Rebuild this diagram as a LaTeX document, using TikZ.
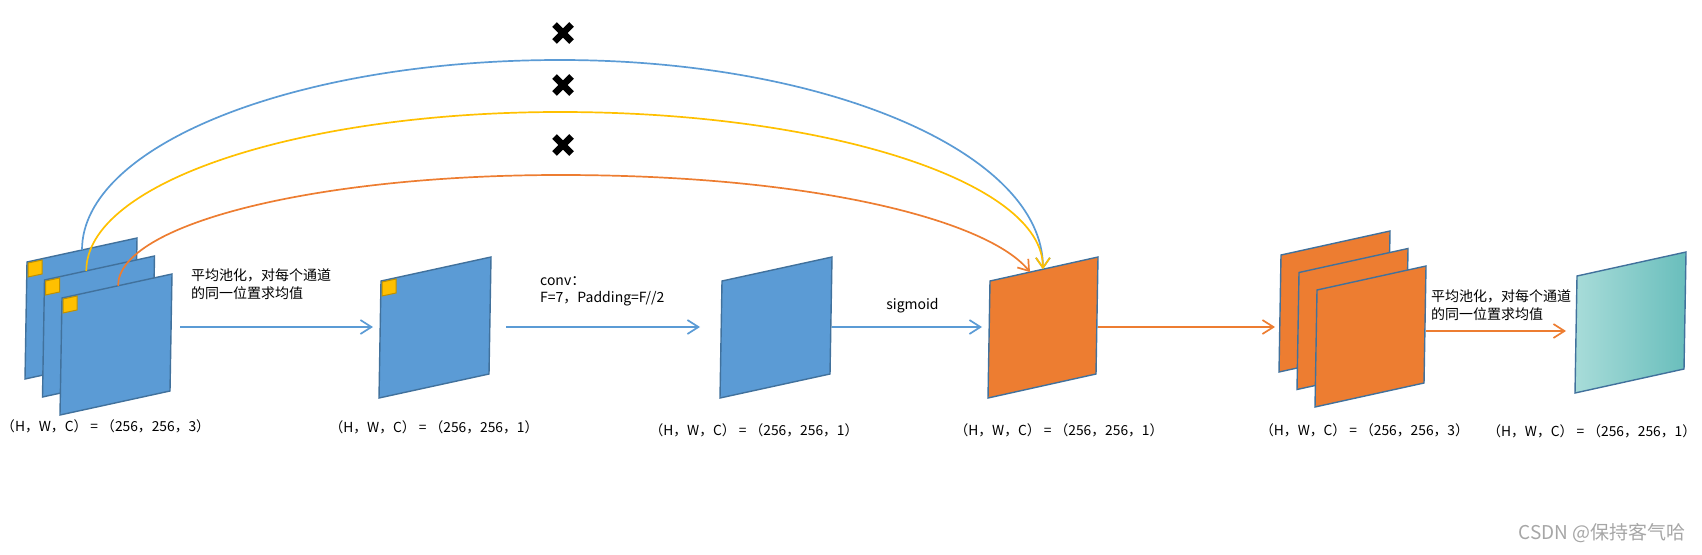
\documentclass[tikz,border=0pt]{standalone}
\usepackage{fontspec}
\newfontfamily\cjk{Noto Sans CJK SC}
\usetikzlibrary{arrows.meta,calc}

\definecolor{mapblue}{HTML}{5B9BD5}
\definecolor{mapedge}{HTML}{41719C}
\definecolor{maporange}{HTML}{ED7D31}
\definecolor{patchyellow}{HTML}{FFC000}
\definecolor{patchedge}{HTML}{BF9000}
\definecolor{tealL}{HTML}{A8DCD9}
\definecolor{tealR}{HTML}{69BEBC}

% feature map: name, top-left x, top-left y, width, fill
\newcommand{\fmap}[5]{%
  \draw[fmap,#5] (#2,#3) coordinate (#1-tl) -- ++(#4,-24) coordinate (#1-tr)
    -- ++(-2,117) coordinate (#1-br) -- ++(-#4,24) coordinate (#1-bl) -- cycle;}
% yellow window in the top-left corner of a map
\newcommand{\window}[1]{%
  \draw[yellowpatch] ($(#1-tl)+(1,1)$) -- ++(14,-3) -- ++(0,14) -- ++(-14,3) -- cycle;}

\begin{document}
\begin{tikzpicture}[x=1pt,y=-1pt,
  fmap/.style={draw=mapedge, line width=1.4pt, line join=miter},
  yellowpatch/.style={draw=patchedge, fill=patchyellow, line width=1pt},
  bluearrow/.style={draw=mapblue, line width=1.7pt, -{Straight Barb[length=11pt,width=14pt]}},
  orangearrow/.style={bluearrow, draw=maporange},
  skipline/.style={line width=1.7pt, -{Straight Barb[length=10pt,width=14pt]}},
  nomark/.style={line width=6.5pt},
  dimlabel/.style={font=\cjk\fontsize{13.8}{16}\selectfont, inner sep=0pt},
  oplabel/.style={font=\cjk\fontsize{14}{17.5}\selectfont, align=left, inner sep=0pt},
]
\useasboundingbox (0,0) rectangle (1702,554);

% input, three channels
\foreach \i in {0,1,2} {
  \fmap{in\i}{27+17.5*\i}{262+18*\i}{110}{fill=mapblue}
  \window{in\i}
}
% pooled map
\fmap{pool}{381}{281}{110}{fill=mapblue}
\window{pool}
% conv map
\fmap{conv}{722}{281}{110}{fill=mapblue}
% sigmoid map
\fmap{sig}{990}{281}{108}{fill=maporange}
% weighted channels
\foreach \i in {0,1,2} {
  \fmap{out\i}{1281+18*\i}{255+17.5*\i}{109}{fill=maporange}
}
% output map
\fmap{avg}{1577}{276}{109}{left color=tealL, right color=tealR}

% arrows
\coordinate (row) at (0,327);
\coordinate (row2) at (0,331);
\draw[bluearrow, shorten <=8pt, shorten >=8pt] (in2-tr |- row) -- (pool-tl |- row);
\draw[bluearrow, shorten <=15pt, shorten >=22pt] (pool-tr |- row) -- (conv-tl |- row);
\draw[bluearrow, shorten >=8pt] (conv-tr |- row) -- (sig-tl |- row);
\draw[orangearrow, shorten >=6pt] (sig-tr |- row) -- (out0-tl |- row);
\draw[orangearrow, shorten >=11pt] (out2-tr |- row2) -- (avg-tl |- row2);

% skipped connections
\coordinate (blue-from) at ($(in0-tl)!0.5!(in0-tr)$);
\coordinate (yellow-from) at ($(in1-tl)!0.38!(in1-tr)$);
\coordinate (orange-from) at ($(in2-tl)!0.51!(in2-tr)$);
\coordinate (skip-to) at ($(sig-tl)!0.49!(sig-tr)$);
\coordinate (orange-to) at ($(sig-tl)!0.37!(sig-tr)$);
\draw[skipline, mapblue] (blue-from) .. controls (82,145) and (296,60) .. (560,60)
  .. controls (827,60) and (1043,153) .. (skip-to);
\draw[skipline, patchyellow] (yellow-from) .. controls (86,183) and (298,112) .. (560,112)
  .. controls (827,112) and (1043,182) .. (skip-to);
\draw[skipline, maporange] (orange-from) .. controls (118,224) and (316,175) .. (560,175)
  .. controls (820,175) and (990,222) .. (orange-to);

% crosses
\foreach \y in {33,85,145} {
  \draw[nomark] (563,\y) ++(-8.5,-8.5) -- ++(17,17);
  \draw[nomark] (563,\y) ++(-8.5,8.5) -- ++(17,-17);
}

% operation labels
\node[oplabel, anchor=west] (pool-op) at (191,284) {平均池化，对每个通道\\的同一位置求均值};
\node[oplabel, anchor=west] (conv-op) at (540,291.5) {conv：\\F=7，Padding=F//2};
\node[oplabel] (sig-op) at (912.5,305.7) {sigmoid};
\node[oplabel, anchor=west] (avg-op) at (1431,305.3) {平均池化，对每个通道\\的同一位置求均值};

% shapes
\node[dimlabel, anchor=west] (in-dim) at (1,426) {（H，W，C） = （256，256，3）};
\node[dimlabel] (pool-dim) at (434,427) {（H，W，C） = （256，256，1）};
\node[dimlabel] (conv-dim) at (754,430.5) {（H，W，C） = （256，256，1）};
\node[dimlabel] (sig-dim) at (1059,430) {（H，W，C） = （256，256，1）};
\node[dimlabel] (out-dim) at (1364.5,430.7) {（H，W，C） = （256，256，3）};
\node[dimlabel] (avg-dim) at (1591.7,431.7) {（H，W，C） = （256，256，1）};

% watermark
\node[font=\cjk\fontsize{19}{21}\selectfont, text=gray!70, anchor=east, inner sep=0pt] (mark) at (1686,533) {CSDN @保持客气哈};
\end{tikzpicture}
\end{document}
